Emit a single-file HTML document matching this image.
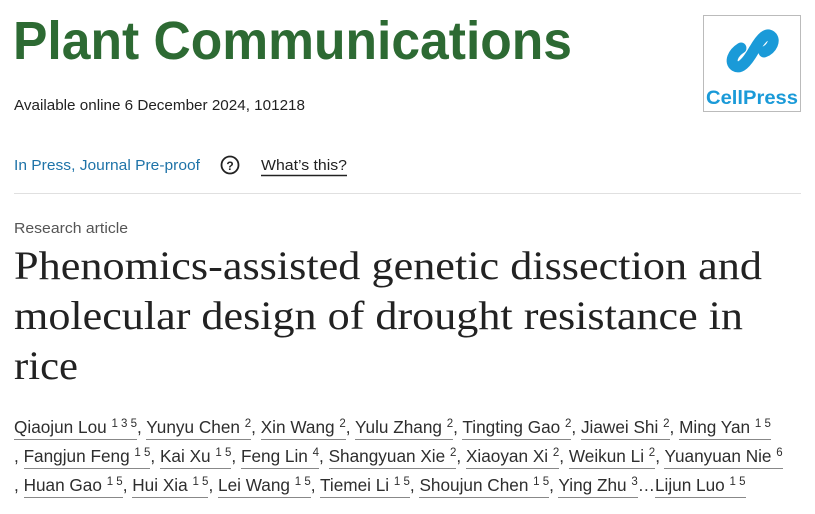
<!DOCTYPE html>
<html><head><meta charset="utf-8"><style>
body{margin:0;width:815px;height:514px;background:#fff;overflow:hidden;position:relative;font-family:"Liberation Sans",sans-serif}
.a{position:absolute;left:14px;font-size:17.2px;color:#2e2e2e;white-space:nowrap;letter-spacing:0px}
.a span{border-bottom:1.5px solid #888;padding-bottom:2px}
.a sup{font-size:11.5px;vertical-align:6px;line-height:0}
</style></head><body>
<svg width="815" height="514" style="position:absolute;left:0;top:0">
<text x="13" y="59" font-family="Liberation Sans" font-weight="bold" font-size="54" fill="#2d6a33" textLength="559" lengthAdjust="spacingAndGlyphs">Plant Communications</text>
<text x="14" y="110" font-family="Liberation Sans" font-size="15" fill="#222" textLength="291" lengthAdjust="spacingAndGlyphs">Available online 6 December 2024, 101218</text>
<text x="14" y="170" font-family="Liberation Sans" font-size="15" fill="#1e73a8" textLength="186" lengthAdjust="spacingAndGlyphs">In Press, Journal Pre-proof</text>
<circle cx="230" cy="165" r="8.5" fill="none" stroke="#222" stroke-width="1.8"/>
<text x="230" y="170" text-anchor="middle" font-family="Liberation Sans" font-weight="bold" font-size="12" fill="#222">?</text>
<text x="261" y="170" font-family="Liberation Sans" font-size="15" fill="#222" textLength="86" lengthAdjust="spacingAndGlyphs">What’s this?</text>
<line x1="261" y1="175.5" x2="347" y2="175.5" stroke="#222" stroke-width="1.5"/>
<line x1="14" y1="193.5" x2="801" y2="193.5" stroke="#e0e0e0" stroke-width="1"/>
<text x="14" y="233" font-family="Liberation Sans" font-size="15" fill="#555" textLength="114" lengthAdjust="spacingAndGlyphs">Research article</text>
<g font-family="Liberation Serif" font-size="40" fill="#222">
<text x="14" y="279" textLength="748" lengthAdjust="spacingAndGlyphs">Phenomics-assisted genetic dissection and</text>
<text x="14" y="329" textLength="729" lengthAdjust="spacingAndGlyphs">molecular design of drought resistance in</text>
<text x="14" y="379" textLength="64" lengthAdjust="spacingAndGlyphs">rice</text>
</g>
<rect x="703.5" y="15.5" width="97" height="96" fill="#fff" stroke="#bbb"/>
<g fill="none" stroke="#1a9ad8" stroke-width="11" stroke-linecap="round">
<path d="M754 50 C762 36 767 33 771 36 C776 40 772 49 764 52"/>
<path d="M754 50 C746 64 740 69 735 66 C729 62 733 53 741 48"/>
</g>
<text x="752" y="104" text-anchor="middle" font-family="Liberation Sans" font-weight="bold" font-size="19" fill="#1a9ad8" textLength="92" lengthAdjust="spacingAndGlyphs">CellPress</text>
</svg>
<div class="a" style="top:417px"><span>Qiaojun Lou <sup>1 3 5</sup></span>, <span>Yunyu Chen <sup>2</sup></span>, <span>Xin Wang <sup>2</sup></span>, <span>Yulu Zhang <sup>2</sup></span>, <span>Tingting Gao <sup>2</sup></span>, <span>Jiawei Shi <sup>2</sup></span>, <span>Ming Yan <sup>1 5</sup></span></div>
<div class="a" style="top:446px">, <span>Fangjun Feng <sup>1 5</sup></span>, <span>Kai Xu <sup>1 5</sup></span>, <span>Feng Lin <sup>4</sup></span>, <span>Shangyuan Xie <sup>2</sup></span>, <span>Xiaoyan Xi <sup>2</sup></span>, <span>Weikun Li <sup>2</sup></span>, <span>Yuanyuan Nie <sup>6</sup></span></div>
<div class="a" style="top:475px">, <span>Huan Gao <sup>1 5</sup></span>, <span>Hui Xia <sup>1 5</sup></span>, <span>Lei Wang <sup>1 5</sup></span>, <span>Tiemei Li <sup>1 5</sup></span>, <span>Shoujun Chen <sup>1 5</sup></span>, <span>Ying Zhu <sup>3</sup></span>…<span>Lijun Luo <sup>1 5</sup></span></div>
</body></html>
